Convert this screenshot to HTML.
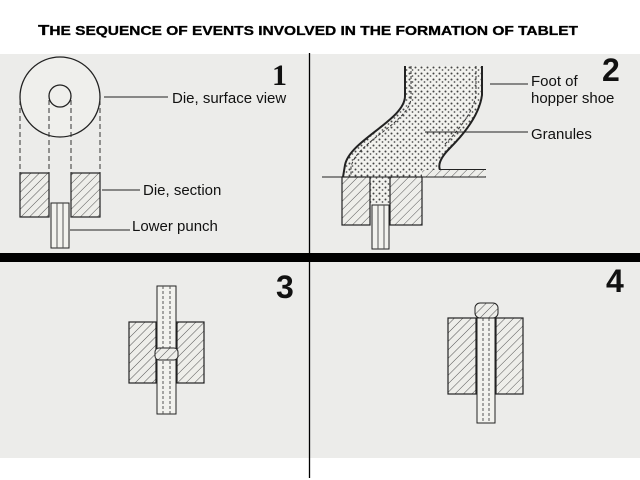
<!DOCTYPE html>
<html><head><meta charset="utf-8"><style>
html,body{margin:0;padding:0;background:#fff;width:640px;height:480px;overflow:hidden}
svg{display:block}
</style></head><body>
<svg width="640" height="480" viewBox="0 0 640 480" xmlns="http://www.w3.org/2000/svg">
<defs>
<pattern id="h" width="6" height="6" patternUnits="userSpaceOnUse" patternTransform="rotate(45)">
<rect width="6" height="6" fill="#eeeeea"/><line x1="0" y1="0" x2="0" y2="6" stroke="#555" stroke-width="1"/>
</pattern>
<pattern id="d" width="6" height="6" patternUnits="userSpaceOnUse">
<rect width="6" height="6" fill="#f2f2ee"/><circle cx="1.5" cy="1.5" r="1" fill="#444"/><circle cx="4.5" cy="4" r="0.9" fill="#555"/>
</pattern>
</defs>
<rect x="0" y="54" width="640" height="404" fill="#ececea"/>
<text x="38" y="35" textLength="540" lengthAdjust="spacingAndGlyphs" font-family="Liberation Sans, sans-serif" font-weight="bold" font-size="12.5" fill="#000" stroke="#000" stroke-width="0.3"><tspan font-size="15">T</tspan>HE SEQUENCE OF EVENTS INVOLVED IN THE FORMATION OF TABLET</text>
<rect x="0" y="253" width="640" height="9" fill="#000"/>
<line x1="309.5" y1="53" x2="309.5" y2="478" stroke="#000" stroke-width="1.3"/>
<g font-family="Liberation Sans, sans-serif" font-size="15" fill="#111">
<!-- Panel 1 -->
<circle cx="60" cy="97" r="40" fill="#efefec" stroke="#222" stroke-width="1.3"/>
<circle cx="60" cy="96" r="11" fill="#efefec" stroke="#222" stroke-width="1.3"/>
<g stroke="#333" stroke-dasharray="5,3" stroke-width="1">
<line x1="20" y1="100" x2="20" y2="173"/><line x1="49" y1="100" x2="49" y2="173"/>
<line x1="71" y1="100" x2="71" y2="173"/><line x1="100" y1="100" x2="100" y2="173"/>
</g>
<rect x="20" y="173" width="29" height="44" fill="url(#h)" stroke="#222" stroke-width="1.2"/>
<rect x="71" y="173" width="29" height="44" fill="url(#h)" stroke="#222" stroke-width="1.2"/>
<rect x="51" y="203" width="18" height="45" fill="#f2f2ee" stroke="#222" stroke-width="1"/>
<line x1="57" y1="203" x2="57" y2="248" stroke="#555"/><line x1="63" y1="203" x2="63" y2="248" stroke="#555"/>
<line x1="104" y1="97" x2="168" y2="97" stroke="#222"/>
<text x="172" y="103">Die, surface view</text>
<line x1="102" y1="190" x2="140" y2="190" stroke="#222"/>
<text x="143" y="195">Die, section</text>
<line x1="70" y1="230" x2="130" y2="230" stroke="#222"/>
<text x="132" y="231">Lower punch</text>
<text x="272" y="85" font-family="Liberation Serif, serif" font-weight="bold" font-size="30">1</text>
<!-- Panel 2 -->
<path d="M405,66 L405,96 C405,120 350,140 345,165 L345,176 L342,176 L342,225 L370,225 L370,205 L390,205 L390,225 L422,225 L422,176 L437,176 C440,165 440,158 450,148 C470,128 480,110 482,95 L482,66 Z" fill="url(#d)"/>
<path d="M405,66 L405,96 C405,120 350,140 345,165 L343,177" fill="none" stroke="#222" stroke-width="2"/>
<path d="M411,66 L411,98 C410,122 356,142 351,167 L351,177" fill="none" stroke="#333" stroke-width="1" stroke-dasharray="3,2"/>
<path d="M482,66 L482,95 C480,110 470,128 450,148 C440,158 438,165 440,170 L486,170" fill="none" stroke="#222" stroke-width="2"/>
<path d="M476,66 L476,95 C474,108 464,125 444,145" fill="none" stroke="#333" stroke-dasharray="3,2"/>
<rect x="422" y="170" width="64" height="7" fill="url(#h)"/>
<line x1="322" y1="177" x2="486" y2="177" stroke="#222"/>
<rect x="342" y="177" width="28" height="48" fill="url(#h)" stroke="#222" stroke-width="1.2"/>
<rect x="390" y="177" width="32" height="48" fill="url(#h)" stroke="#222" stroke-width="1.2"/>
<rect x="372" y="205" width="17" height="44" fill="#f2f2ee" stroke="#222"/>
<line x1="378" y1="205" x2="378" y2="249" stroke="#555"/><line x1="384" y1="205" x2="384" y2="249" stroke="#555"/>
<line x1="490" y1="84" x2="528" y2="84" stroke="#222"/>
<text x="531" y="86">Foot of</text>
<text x="531" y="103">hopper shoe</text>
<line x1="425" y1="132" x2="528" y2="132" stroke="#222"/>
<text x="531" y="139">Granules</text>
<text x="602" y="81" font-weight="bold" font-size="32">2</text>
<!-- Panel 3 -->
<rect x="129" y="322" width="27" height="61" fill="url(#h)" stroke="#222" stroke-width="1.2"/>
<rect x="177" y="322" width="27" height="61" fill="url(#h)" stroke="#222" stroke-width="1.2"/>
<rect x="157" y="286" width="19" height="128" fill="#f2f2ee" stroke="#222"/>
<line x1="163" y1="286" x2="163" y2="414" stroke="#555" stroke-dasharray="3,2"/><line x1="170" y1="286" x2="170" y2="414" stroke="#555" stroke-dasharray="3,2"/>
<rect x="155" y="348" width="23" height="12" rx="4" fill="url(#h)" stroke="#222"/>
<text x="276" y="298" font-weight="bold" font-size="32">3</text>
<!-- Panel 4 -->
<rect x="448" y="318" width="28" height="76" fill="url(#h)" stroke="#222" stroke-width="1.2"/>
<rect x="496" y="318" width="27" height="76" fill="url(#h)" stroke="#222" stroke-width="1.2"/>
<rect x="477" y="318" width="18" height="105" fill="#f2f2ee" stroke="#222"/>
<line x1="483" y1="318" x2="483" y2="423" stroke="#555" stroke-dasharray="3,2"/><line x1="489" y1="318" x2="489" y2="423" stroke="#555" stroke-dasharray="3,2"/>
<rect x="475" y="303" width="23" height="15" rx="5" fill="url(#h)" stroke="#222"/>
<text x="606" y="292" font-weight="bold" font-size="32">4</text>
</g>
</svg>
</body></html>
